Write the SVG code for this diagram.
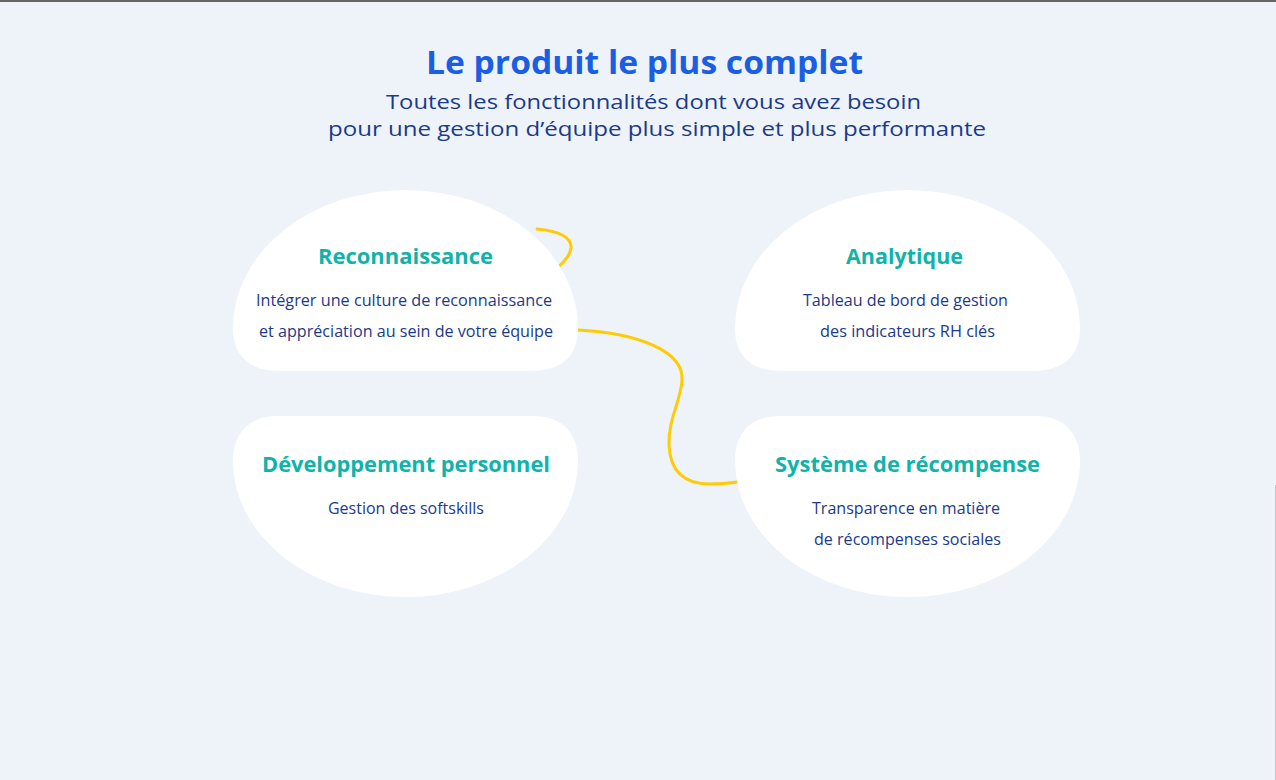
<svg xmlns="http://www.w3.org/2000/svg" width="1276" height="780" viewBox="0 0 1276 780">
<defs>
<style>
.bg{fill:#EEF3FA}
.blob{fill:#FFFFFF}
.title{font-family:"Open Sans","Liberation Sans",sans-serif;font-weight:700;font-size:33px;fill:#1A5FE3;text-anchor:middle}
.sub{font-family:"Open Sans","Liberation Sans",sans-serif;font-weight:400;font-size:20px;fill:#1B3A8A;text-anchor:middle}
.ntitle{font-family:"Open Sans","Liberation Sans",sans-serif;font-weight:700;font-size:20.5px;fill:#0FB3A9;text-anchor:middle}
.nbody{font-family:"Open Sans","Liberation Sans",sans-serif;font-weight:400;font-size:15.5px;fill:#1B3A8A;text-anchor:middle}
.conn{fill:none;stroke:#FFCB05;stroke-width:3;stroke-linecap:round}
</style>
</defs>
<rect class="bg" x="0" y="0" width="1276" height="780"/>
<rect x="0" y="0" width="1276" height="2" fill="#666666"/>
<line x1="1275.5" y1="485" x2="1275.5" y2="780" stroke="#C4C8CE" stroke-width="1"/>

<text class="title" x="644.5" y="74" textLength="437" lengthAdjust="spacingAndGlyphs">Le produit le plus complet</text>
<text class="sub" x="653.5" y="109" textLength="535" lengthAdjust="spacingAndGlyphs">Toutes les fonctionnalités dont vous avez besoin</text>
<text class="sub" x="657" y="136" textLength="658" lengthAdjust="spacingAndGlyphs">pour une gestion d’équipe plus simple et plus performante</text>

<g id="connectors">
<path class="conn" d="M 537,229 C 560,231 572,238 571,248 C 570,256 563,263 557,268"/>
<path class="conn" d="M 577,330 C 640,333 684,352 682,380 C 681,400 668,420 669,445 C 670,470 683,484 710,484 C 722,484 730,483 738,482"/>
</g>

<g id="node-reconnaissance">
<path class="blob" d="M 233,328 A 172.5,138 0 0 1 578,328 C 578,355 563,371 530,371 L 281,371 C 248,371 233,355 233,328 Z"/>
<text class="ntitle" x="405.5" y="264" textLength="175" lengthAdjust="spacingAndGlyphs">Reconnaissance</text>
<text class="nbody" x="404" y="306" textLength="296" lengthAdjust="spacingAndGlyphs">Intégrer une culture de reconnaissance</text>
<text class="nbody" x="406" y="337" textLength="294" lengthAdjust="spacingAndGlyphs">et appréciation au sein de votre équipe</text>
</g>

<g id="node-analytique">
<path class="blob" d="M 735,328 A 172.5,138 0 0 1 1080,328 C 1080,355 1065,371 1032,371 L 783,371 C 750,371 735,355 735,328 Z"/>
<text class="ntitle" x="904.5" y="264" textLength="117" lengthAdjust="spacingAndGlyphs">Analytique</text>
<text class="nbody" x="905.5" y="306" textLength="205" lengthAdjust="spacingAndGlyphs">Tableau de bord de gestion</text>
<text class="nbody" x="907.5" y="337" textLength="175" lengthAdjust="spacingAndGlyphs">des indicateurs RH clés</text>
</g>

<g id="node-developpement">
<path class="blob" d="M 233,461 C 233,434 248,416 278,416 L 533,416 C 563,416 578,434 578,461 A 172.5,136 0 0 1 233,461 Z"/>
<text class="ntitle" x="406" y="472" textLength="288" lengthAdjust="spacingAndGlyphs">Développement personnel</text>
<text class="nbody" x="406" y="514" textLength="156" lengthAdjust="spacingAndGlyphs">Gestion des softskills</text>
</g>

<g id="node-recompense">
<path class="blob" d="M 735,461 C 735,434 750,416 780,416 L 1035,416 C 1065,416 1080,434 1080,461 A 172.5,136 0 0 1 735,461 Z"/>
<text class="ntitle" x="907.5" y="472" textLength="265" lengthAdjust="spacingAndGlyphs">Système de récompense</text>
<text class="nbody" x="906" y="514" textLength="188" lengthAdjust="spacingAndGlyphs">Transparence en matière</text>
<text class="nbody" x="907.5" y="545" textLength="187" lengthAdjust="spacingAndGlyphs">de récompenses sociales</text>
</g>
</svg>
